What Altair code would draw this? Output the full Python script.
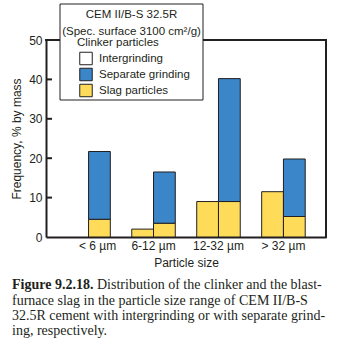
import altair as alt
import pandas as pd

# ---- data ----
categories = ["< 6 µm", "6-12 µm", "12-32 µm", "> 32 µm"]
methods = ["Intergrinding", "Separate grinding"]
inter_slag = [0.0, 2.0, 9.0, 11.5]      # intergrinding bars (slag part only)
sep_slag = [4.5, 3.5, 9.0, 5.2]         # separate grinding: slag part
sep_total = [21.7, 16.5, 40.2, 19.8]    # separate grinding: total height
parts = ["Intergrinding", "Separate grinding", "Slag particles"]
part_colors = ["#ffffff", "#3a86c8", "#fedc5a"]
y_ticks = [0, 10, 20, 30, 40, 50]
inner_ticks = [10, 20, 30, 40]

legend_header = ["CEM II/B-S 32.5R", "(Spec. surface 3100 cm²/g)"]
caption_bold = "Figure 9.2.18."
caption_first = "Distribution of the clinker and the blast-"
caption_rest = [
    "furnace slag in the particle size range of CEM II/B-S",
    "32.5R cement with intergrinding or with separate grind-",
    "ing, respectively.",
]

rows = []
for i, c in enumerate(categories):
    if inter_slag[i] > 0:
        rows.append(dict(size=c, method=methods[0], part="Slag particles", lo=0, hi=inter_slag[i]))
    if sep_slag[i] > 0:
        rows.append(dict(size=c, method=methods[1], part="Slag particles", lo=0, hi=sep_slag[i]))
    rows.append(dict(size=c, method=methods[1], part="Separate grinding", lo=sep_slag[i], hi=sep_total[i]))
df = pd.DataFrame(rows)
ticks_df = pd.DataFrame({"v": inner_ticks})
one = alt.Data(values=[{"k": 1}])

INK = "#231f20"
W, H = 280, 197
Y_TITLE = "Frequency, % by mass"
CAP_Y = 249

frame_top = alt.Chart(one).mark_rule(color=INK, strokeWidth=2, strokeCap="square").encode(
    x=alt.value(0), x2=alt.value(W), y=alt.value(0))
frame_right = alt.Chart(one).mark_rule(color=INK, strokeWidth=2, strokeCap="square").encode(
    x=alt.value(W), y=alt.value(0), y2=alt.value(H))

bars = alt.Chart(df).mark_bar(stroke=INK, strokeWidth=1).encode(
    x=alt.X("size:N", sort=categories,
            scale=alt.Scale(domain=categories, paddingInner=0.33, paddingOuter=0.32),
            axis=alt.Axis(title="Particle size", labelAngle=0,
                          labelOffset={"condition": {"test": "datum.value === '< 6 µm'", "value": 9},
                                       "value": 0})),
    xOffset=alt.XOffset("method:N", scale=alt.Scale(domain=methods)),
    y=alt.Y("lo:Q", scale=alt.Scale(domain=[0, 50], nice=False),
            axis=alt.Axis(title=Y_TITLE, values=y_ticks)),
    y2="hi:Q",
    fill=alt.Fill("part:N", scale=alt.Scale(domain=parts, range=part_colors),
                  legend=alt.Legend(title="Clinker particles", orient="none",
                                    legendX=31, legendY=-3)),
)

inner = alt.Chart(ticks_df).mark_rule(color=INK, strokeWidth=2).encode(
    y=alt.Y("v:Q", title=Y_TITLE, axis=alt.Axis(title=Y_TITLE, values=y_ticks)),
    x=alt.value(0), x2=alt.value(6))

box = alt.Chart(one).mark_rect(fill="white", stroke=INK, strokeWidth=1).encode(
    x=alt.value(14), x2=alt.value(157), y=alt.value(-36), y2=alt.value(60))

head1 = alt.Chart(one).mark_text(font="Liberation Sans", fontSize=11.5, color=INK,
                                 align="center", baseline="alphabetic").encode(
    x=alt.value(85.5), y=alt.value(-22), text=alt.value(legend_header[0]))
head2 = alt.Chart(one).mark_text(font="Liberation Sans", fontSize=11.5, color=INK,
                                 align="center", baseline="alphabetic").encode(
    x=alt.value(85.5), y=alt.value(-5), text=alt.value(legend_header[1]))

cap_b = alt.Chart(one).mark_text(font="Liberation Serif", fontSize=14, fontWeight="bold",
                                 color=INK, align="left", baseline="alphabetic").encode(
    x=alt.value(-34), y=alt.value(CAP_Y), text=alt.value(caption_bold))
cap_1 = alt.Chart(one).mark_text(font="Liberation Serif", fontSize=14,
                                 color=INK, align="left", baseline="alphabetic").encode(
    x=alt.value(51), y=alt.value(CAP_Y), text=alt.value(caption_first))
cap_r = alt.Chart(one).mark_text(font="Liberation Serif", fontSize=14, lineHeight=15.3,
                                 color=INK, align="left", baseline="alphabetic").encode(
    x=alt.value(-34), y=alt.value(CAP_Y + 15.5), text=alt.value(caption_rest))

chart = alt.layer(
    frame_top, frame_right, bars, inner, box, head1, head2, cap_b, cap_1, cap_r
).properties(
    width=W, height=H,
    padding={"left": 46, "top": 40, "right": 25, "bottom": 111},
    autosize=alt.AutoSizeParams(type="none"),
).configure_view(
    stroke=None
).configure_axis(
    domainColor=INK, domainWidth=2, ticks=False, grid=False,
    labelFont="Liberation Sans", labelFontSize=12, labelColor=INK,
    titleFont="Liberation Sans", titleFontSize=12, titleColor=INK, titleFontWeight="normal",
).configure_axisX(
    labelPadding=3, titlePadding=6,
).configure_axisY(
    labelPadding=4, titlePadding=5,
).configure_legend(
    titleFont="Liberation Sans", titleFontSize=11.5, titleFontWeight="normal", titleColor=INK,
    titlePadding=3, labelFont="Liberation Sans", labelFontSize=11.5, labelColor=INK,
    labelOffset=6, symbolType="square", symbolSize=156, symbolStrokeColor=INK,
    symbolStrokeWidth=1, rowPadding=-2, symbolOffset=2, padding=0,
)

chart.save("out.html", embed_options={"renderer": "svg", "actions": False})
